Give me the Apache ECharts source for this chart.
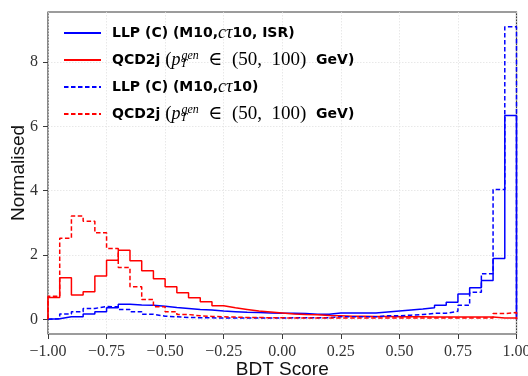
<!DOCTYPE html>
<html><head><meta charset="utf-8">
<script src="https://cdn.jsdelivr.net/npm/echarts@6/dist/echarts.min.js"></script>
<style>html,body{margin:0;padding:0;background:#fff}#c{width:528px;height:376px}</style>
</head><body><div id="c"></div>
<script>
// Histogram bins: 40 bins of width 0.05 from -1 to 1
const binStart = -1.0;
const binWidth = 0.05;

// LLP (C) (M10, c tau 10, ISR) - solid blue
const llpIsr = [0.02,0.08,0.08,0.17,0.24,0.36,0.47,0.45,0.44,0.41,
                0.37,0.34,0.31,0.29,0.26,0.24,0.22,0.21,0.20,0.19,
                0.19,0.18,0.16,0.16,0.20,0.20,0.20,0.20,0.23,0.26,
                0.29,0.32,0.36,0.44,0.53,0.79,0.98,1.21,1.89,6.34];
// QCD2j - solid red
const qcdSolid = [0.68,1.29,0.76,0.86,1.35,1.84,2.15,1.82,1.51,1.26,
                  1.01,0.83,0.67,0.55,0.42,0.36,0.31,0.26,0.23,0.20,
                  0.17,0.15,0.14,0.12,0.11,0.10,0.10,0.09,0.09,0.08,
                  0.08,0.08,0.07,0.07,0.07,0.07,0.07,0.07,0.04,0.04];
// LLP (C) (M10, c tau 10) - dashed blue
const llpNoIsr = [0.02,0.17,0.24,0.34,0.40,0.39,0.31,0.24,0.16,0.10,
                  0.08,0.06,0.05,0.05,0.04,0.04,0.04,0.04,0.04,0.04,
                  0.05,0.05,0.05,0.05,0.08,0.08,0.08,0.08,0.11,0.11,
                  0.13,0.15,0.19,0.19,0.25,0.44,0.84,1.42,4.04,9.10];
// QCD2j - dashed red
const qcdDashed = [0.72,2.52,3.21,3.05,2.69,2.20,1.61,1.01,0.62,0.39,
                   0.24,0.15,0.11,0.09,0.08,0.07,0.06,0.06,0.05,0.05,
                   0.04,0.04,0.04,0.04,0.04,0.04,0.04,0.04,0.04,0.04,
                   0.04,0.04,0.04,0.04,0.04,0.04,0.04,0.04,0.18,0.21];

const xTicks = [-1.00,-0.75,-0.50,-0.25,0.00,0.25,0.50,0.75,1.00];
const yTicks = [0,2,4,6,8];

const seriesNames = ['LLP (C) (M10,cτ10, ISR)', 'QCD2j (pT gen ∈ (50, 100) GeV) ISR',
                     'LLP (C) (M10,cτ10)', 'QCD2j (pT gen ∈ (50, 100) GeV)'];
const qcdRich = '{sp| }{b|QCD2j }{r|(}{m|p}{sub|T}{sup|gen}{r|  ∈  (50,  100)}{b|  GeV)}';
const legendRich = {};
legendRich[seriesNames[0]] = '{sp| }{b|LLP (C) (M10,}{m|cτ}{b|10, ISR)}';
legendRich[seriesNames[1]] = qcdRich;
legendRich[seriesNames[2]] = '{sp| }{b|LLP (C) (M10,}{m|cτ}{b|10)}';
legendRich[seriesNames[3]] = qcdRich;

function stepData(vals) {
  const pts = [[binStart, 0]];
  vals.forEach((v, i) => pts.push([binStart + i * binWidth, v]));
  const end = binStart + vals.length * binWidth;
  pts.push([end, vals[vals.length - 1]]);
  pts.push([end, 0]);
  return pts;
}

const BLUE = '#0000ff', RED = '#ff0000';
const dash = [4.5, 2.5];
function mk(name, vals, color, dashed) {
  return {
    name, type: 'line', step: 'end', symbol: 'none', showSymbol: false,
    data: stepData(vals), animation: false,
    lineStyle: { color, width: 1.5, type: dashed ? dash : 'solid' },
    itemStyle: { color }
  };
}

const serifMath = "'Liberation Serif', 'DejaVu Serif', serif";
const chart = echarts.init(document.getElementById('c'), null, { renderer: 'canvas' });
chart.setOption({
  animation: false,
  backgroundColor: '#fff',
  grid: { left: 48, right: 11.5, top: 12, bottom: 42, show: true, borderColor: '#3a3a3a', borderWidth: 1.2,
          containLabel: false, outerBoundsMode: 'none' },
  legend: {
    orient: 'vertical', left: 63, top: 24, padding: 0,
    itemWidth: 37, itemHeight: 14, itemGap: 8,
    selectedMode: false,
    data: seriesNames,
    itemStyle: { color: 'rgba(0,0,0,0)', borderWidth: 0, opacity: 0 },
    formatter: (n) => legendRich[n],
    textStyle: {
      color: '#000',
      rich: {
        sp: { width: 6, lineHeight: 20, fontSize: 10 },
        b: { fontFamily: "'DejaVu Sans', sans-serif", fontWeight: 'bold', fontSize: 14, lineHeight: 20, color: '#000' },
        m: { fontFamily: serifMath, fontStyle: 'italic', fontSize: 18, lineHeight: 20, color: '#000' },
        r: { fontFamily: serifMath, fontSize: 19, lineHeight: 20, color: '#000' },
        sub: { fontFamily: serifMath, fontStyle: 'italic', fontSize: 12, lineHeight: 12, verticalAlign: 'bottom', width: 1, padding: [0, 0, 0, 0], color: '#000' },
        sup: { fontFamily: serifMath, fontStyle: 'italic', fontSize: 12, lineHeight: 12, verticalAlign: 'top', padding: [0, 0, 0, 0], color: '#000' }
      }
    }
  },
  xAxis: {
    type: 'value', min: -1, max: 1, interval: 0.25,
    name: 'BDT Score', nameLocation: 'middle', nameGap: 26, nameMoveOverlap: false,
    nameTextStyle: { fontFamily: "'Liberation Sans', sans-serif", fontSize: 19, color: '#111' },
    axisLine: { show: false, onZero: false },
    axisTick: { show: true, length: 5, inside: false, lineStyle: { color: '#3a3a3a', width: 1 } },
    axisLabel: {
      margin: 10, fontFamily: serifMath, fontSize: 16, color: '#333',
      customValues: xTicks,
      formatter: (v) => (v < 0 ? '\u2212' : '') + Math.abs(v).toFixed(2)
    },
    splitLine: { show: true, lineStyle: { color: '#e2e2e2', type: [1.5, 1.5], width: 0.8 } }
  },
  yAxis: {
    type: 'value', min: -0.455, max: 9.555,
    name: 'Normalised', nameLocation: 'middle', nameGap: 20, nameMoveOverlap: false,
    nameTextStyle: { fontFamily: "'Liberation Sans', sans-serif", fontSize: 19, color: '#111' },
    axisLine: { show: false, onZero: false },
    axisTick: { show: true, length: 5, customValues: yTicks, lineStyle: { color: '#3a3a3a', width: 1 } },
    axisLabel: { margin: 10, fontFamily: serifMath, fontSize: 16, color: '#333', customValues: yTicks },
    splitLine: { show: true, lineStyle: { color: '#e2e2e2', type: [1.5, 1.5], width: 0.8 } }
  },
  series: [
    mk(seriesNames[0], llpIsr, BLUE, false),
    mk(seriesNames[1], qcdSolid, RED, false),
    mk(seriesNames[2], llpNoIsr, BLUE, true),
    mk(seriesNames[3], qcdDashed, RED, true)
  ]
});
</script></body></html>
